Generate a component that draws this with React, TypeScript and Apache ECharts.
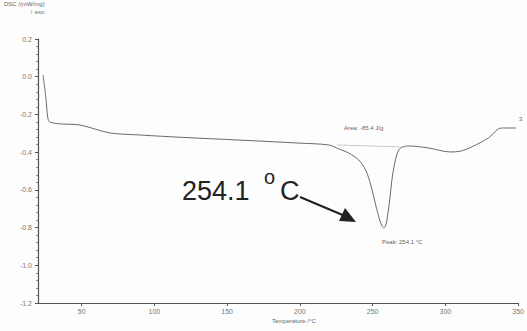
import React, { useEffect, useRef } from "react";
import * as echarts from "echarts";

const temperature = [23.5, 25.5, 26.8, 28.2, 35, 48.8, 69.3, 89.8, 120, 158.3, 199.4, 219.9, 226.8, 233.6, 240.5, 245.2, 248.7, 252.1, 254.8, 256.5, 257.6, 258.6, 259.6, 261.7, 263.7, 266.5, 269.2, 274.7, 288.4, 303.4, 310.3, 317.8, 329.5, 336.3, 340, 348.6];
const dscValues = [0.01, -0.12, -0.22, -0.24, -0.25, -0.256, -0.298, -0.309, -0.322, -0.336, -0.352, -0.362, -0.383, -0.405, -0.442, -0.495, -0.574, -0.68, -0.76, -0.792, -0.802, -0.795, -0.77, -0.654, -0.521, -0.415, -0.378, -0.367, -0.378, -0.399, -0.395, -0.373, -0.325, -0.277, -0.272, -0.272];
const baselineT = [226, 269];
const baselineV = [-0.362, -0.372];
const xTicks = [50, 100, 150, 200, 250, 300, 350];

export default function App() {
  const ref = useRef<HTMLDivElement>(null);
  useEffect(() => {
    const chart = echarts.init(ref.current!, null, { renderer: "svg" });
    const small = { fontFamily: "Liberation Sans", fontSize: 6, fill: "#666" };
    chart.setOption({
      animation: false,
      backgroundColor: "#fdfdfd",
      grid: { left: 38, right: 7, top: 39, bottom: 28 },
      xAxis: {
        type: "value",
        min: 20,
        max: 350,
        axisLine: { onZero: false, lineStyle: { color: "#555", width: 1.2 } },
        axisTick: { show: true, length: 3, customValues: xTicks, lineStyle: { color: "#555" } },
        axisLabel: { customValues: xTicks, fontSize: 7, color: "#777", margin: 5, fontFamily: "Liberation Sans" },
        splitLine: { show: false },
      },
      yAxis: {
        type: "value",
        min: -1.2,
        max: 0.2,
        interval: 0.2,
        axisLine: { show: true, onZero: false, lineStyle: { color: "#555", width: 1.2 } },
        axisTick: { show: true, length: 3, lineStyle: { color: "#555" } },
        minorTick: { show: true, splitNumber: 5, length: 2, lineStyle: { color: "#888" } },
        axisLabel: {
          fontSize: 7,
          color: "#777",
          margin: 6,
          fontFamily: "Liberation Sans",
          formatter: (v: number) => v.toFixed(1),
        },
        splitLine: { show: false },
      },
      series: [
        {
          type: "line",
          data: temperature.map((t, i) => [t, dscValues[i]]),
          showSymbol: false,
          smooth: 0.3,
          lineStyle: { color: "#6a6a6a", width: 1 },
        },
        {
          type: "line",
          data: baselineT.map((t, i) => [t, baselineV[i]]),
          showSymbol: false,
          lineStyle: { color: "#999", width: 1, type: "dotted" },
        },
      ],
      graphic: [
        { type: "text", left: 4, top: 1, style: { ...small, text: "DSC /(mW/mg)" } },
        { type: "text", left: 30, top: 9, style: { ...small, text: "↑ exo" } },
        { type: "text", left: 272, top: 318, style: { ...small, text: "Temperature /°C" } },
        { type: "text", left: 344, top: 125, style: { ...small, text: "Area: -85.4 J/g" } },
        { type: "text", left: 382, top: 239, style: { ...small, text: "Peak: 254.1 °C" } },
        { type: "text", left: 519, top: 116, style: { ...small, text: "3" } },
        {
          type: "text",
          left: 182,
          top: 177,
          style: { text: "254.1", fontFamily: "Liberation Sans", fontSize: 27, fill: "#222" },
        },
        {
          type: "text",
          left: 264,
          top: 167,
          style: { text: "o", fontFamily: "Liberation Sans", fontSize: 20, fill: "#222" },
        },
        {
          type: "text",
          left: 280,
          top: 177,
          style: { text: "C", fontFamily: "Liberation Sans", fontSize: 27, fill: "#222" },
        },
        {
          type: "line",
          shape: { x1: 300, y1: 197, x2: 345, y2: 216 },
          style: { stroke: "#222", lineWidth: 2.2 },
        },
        {
          type: "polygon",
          shape: { points: [[356, 222], [339, 221], [345, 208]] },
          style: { fill: "#222" },
        },
      ],
    });
    return () => chart.dispose();
  }, []);
  return <div ref={ref} style={{ width: 527, height: 331, position: "absolute", left: 0, top: 0 }} />;
}
